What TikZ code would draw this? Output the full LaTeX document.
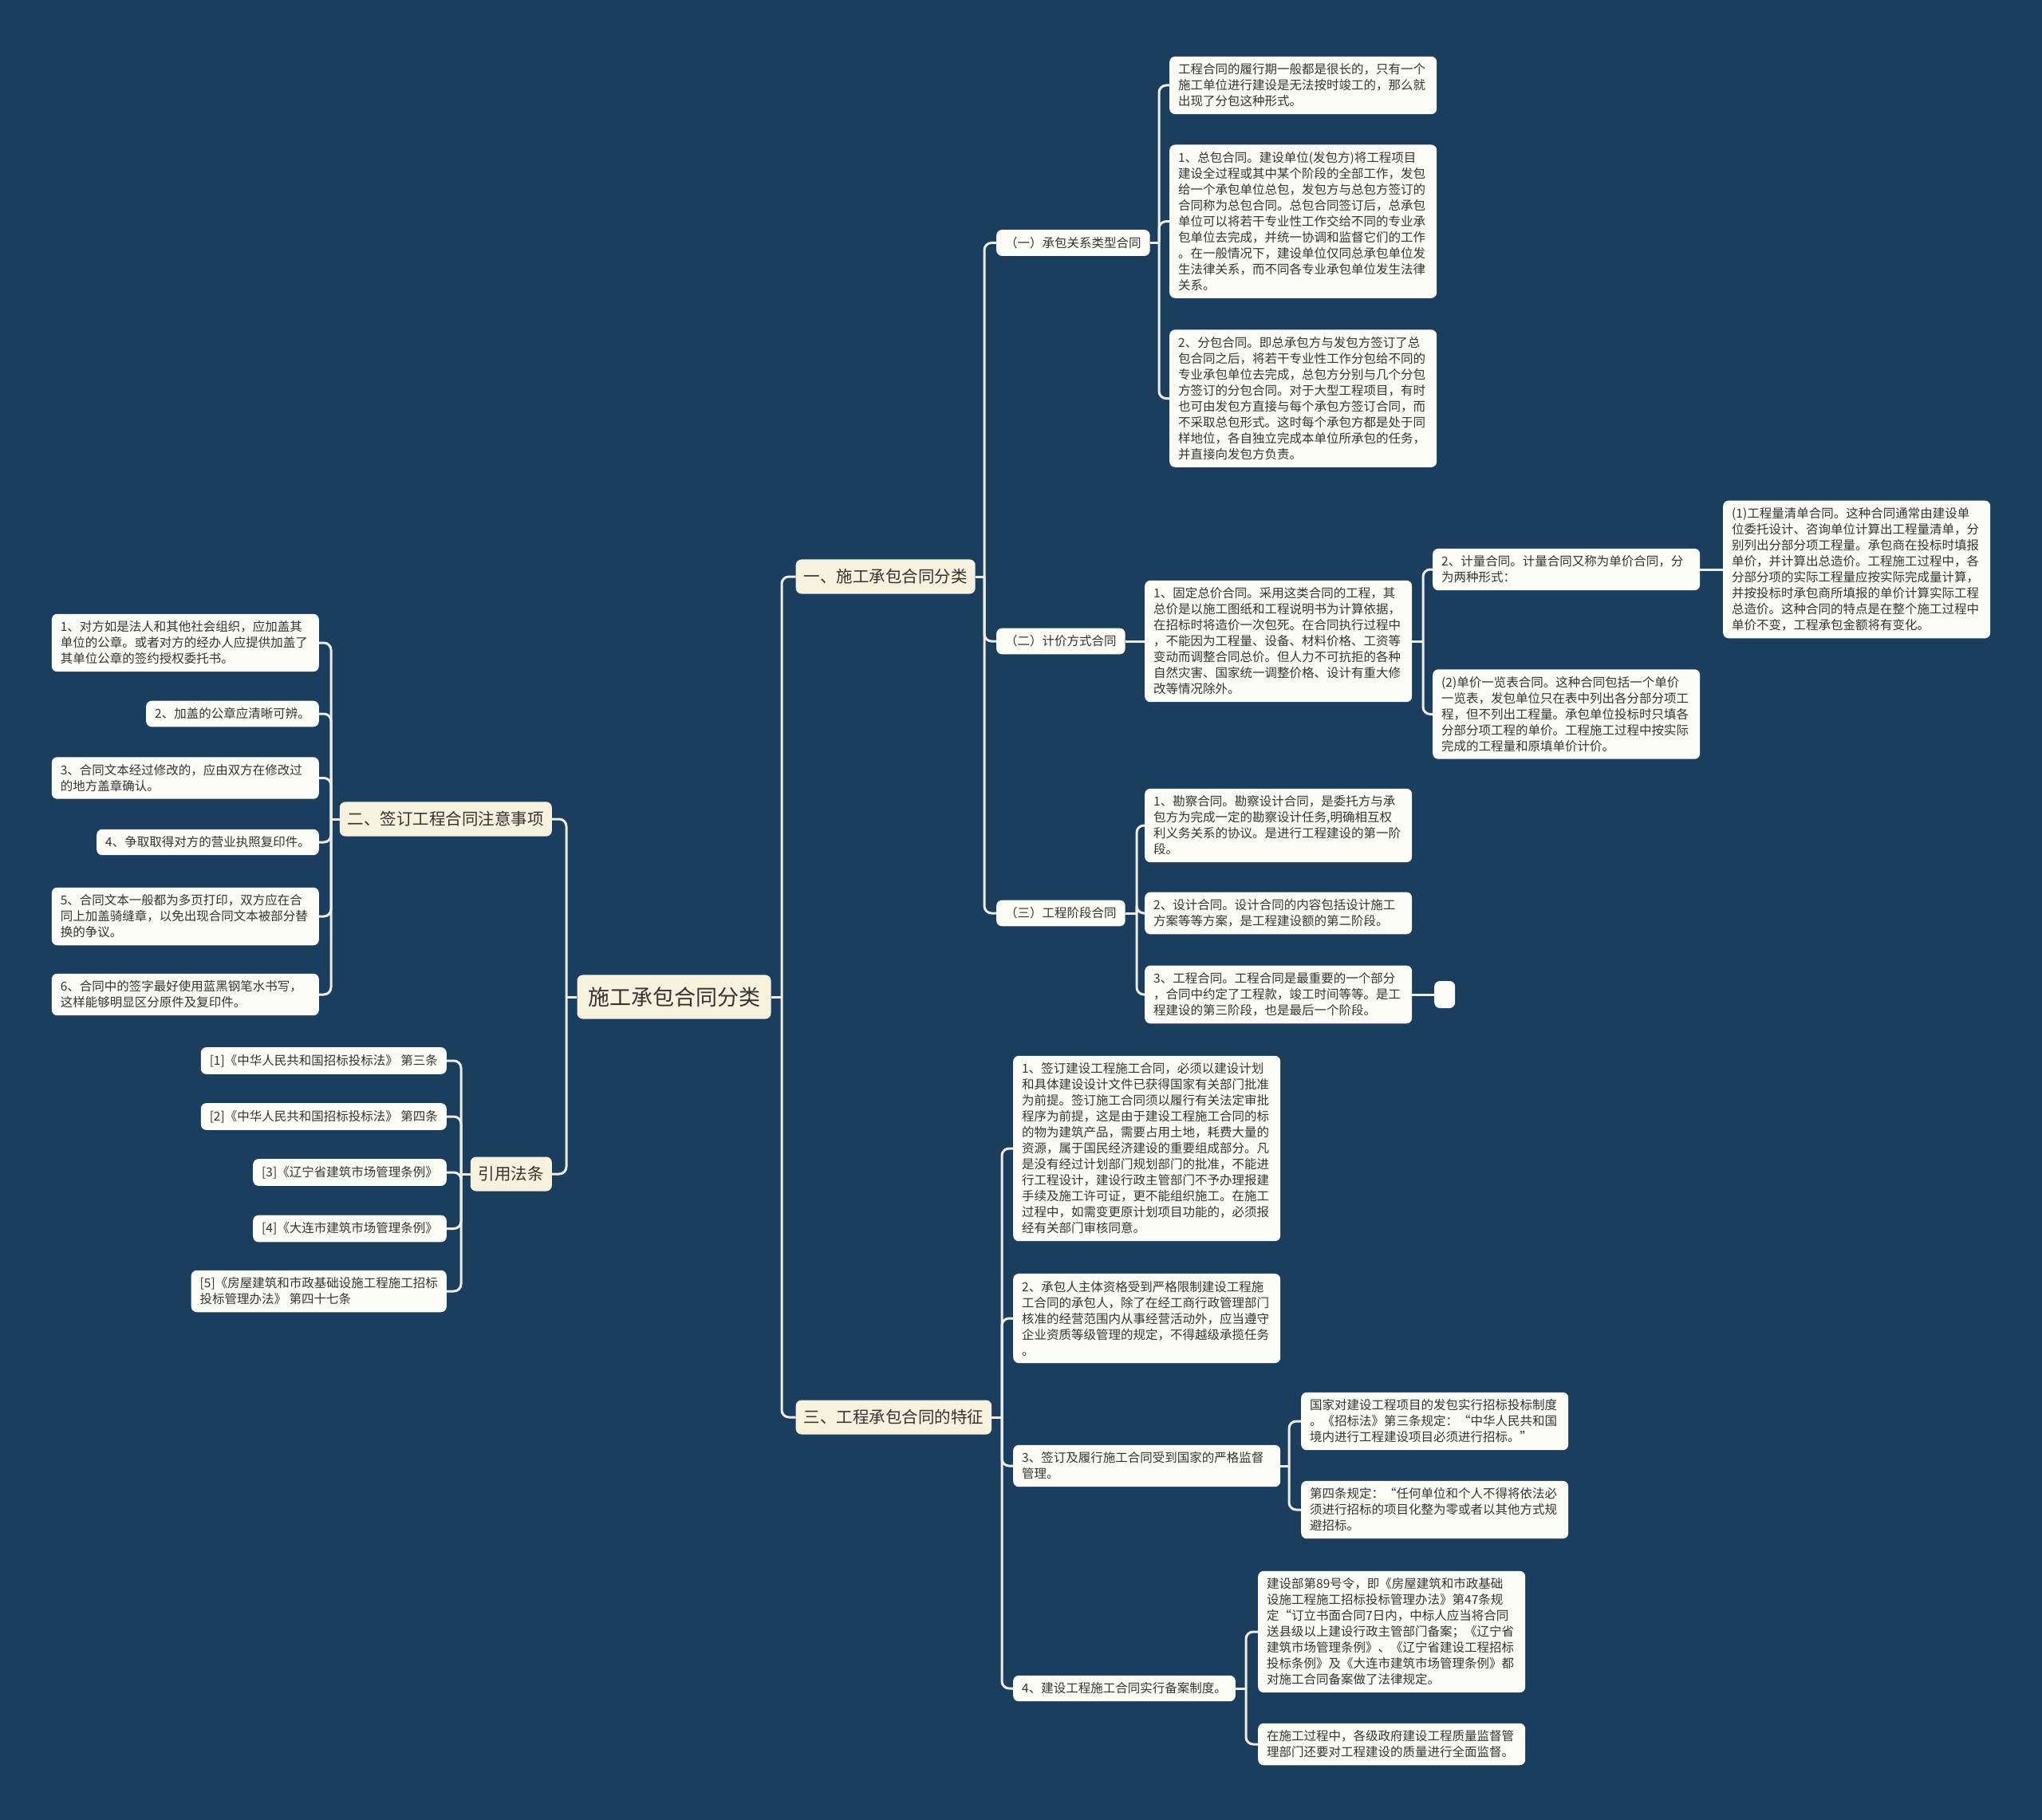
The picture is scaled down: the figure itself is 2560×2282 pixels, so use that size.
\documentclass[tikz,border=0pt]{standalone}
\usepackage{fontspec}
\newfontfamily\cjk{Noto Sans CJK SC}
\definecolor{bgc}{HTML}{1B3D5E}
\definecolor{leafc}{HTML}{FDFDF8}
\definecolor{creamc}{HTML}{F7F2DE}
\definecolor{linec}{HTML}{EDEDE4}
\definecolor{txtc}{HTML}{333333}
\tikzset{
  conn/.style={draw=linec, line width=3pt, rounded corners=9pt},
  box/.style={rounded corners=7pt, fill=leafc, text=txtc, font=\cjk\fontsize{15.5}{20}\selectfont, inner xsep=11pt, inner ysep=9pt, align=left},
  wbox/.style={box, text width=313pt},
  lvlone/.style={box, fill=creamc, font=\cjk\fontsize{20.5}{24}\selectfont, inner xsep=10pt, inner ysep=12pt, align=center},
  rootbox/.style={box, fill=creamc, font=\cjk\fontsize{27}{32}\selectfont, inner xsep=13.5pt, inner ysep=15pt, align=center}
}
\begin{document}
\begin{tikzpicture}[x=1pt,y=-1pt]
\useasboundingbox (0,0) rectangle (2560,2282);
\fill[bgc] (0,0) rectangle (2560,2282);

% root
\node[rootbox] (root) at (845,1250) {施工承包合同分类};

% level 1
\node[lvlone, anchor=west] (b1) at (997.5,723) {一、施工承包合同分类};
\node[lvlone, anchor=west] (b3) at (997.5,1777) {三、工程承包合同的特征};
\node[lvlone, anchor=east, minimum width=263pt] (b2) at (692,1027) {二、签订工程合同注意事项};
\node[lvlone, anchor=east] (b4) at (692,1472) {引用法条};

% level 2 under b1
\node[box, anchor=west] (k1) at (1249,304.5) {（一）承包关系类型合同};
\node[box, anchor=west] (k2) at (1249,804) {（二）计价方式合同};
\node[box, anchor=west] (k3) at (1249,1145) {（三）工程阶段合同};

% under k1
\node[wbox, anchor=west] (a1) at (1466,107) {工程合同的履行期一般都是很长的，只有一个\\施工单位进行建设是无法按时竣工的，那么就\\出现了分包这种形式。};
\node[wbox, anchor=west] (a2) at (1466,277.6) {1、总包合同。建设单位(发包方)将工程项目\\建设全过程或其中某个阶段的全部工作，发包\\给一个承包单位总包，发包方与总包方签订的\\合同称为总包合同。总包合同签订后，总承包\\单位可以将若干专业性工作交给不同的专业承\\包单位去完成，并统一协调和监督它们的工作\\。在一般情况下，建设单位仅同总承包单位发\\生法律关系，而不同各专业承包单位发生法律\\关系。};
\node[wbox, anchor=west] (a3) at (1466,499.6) {2、分包合同。即总承包方与发包方签订了总\\包合同之后，将若干专业性工作分包给不同的\\专业承包单位去完成，总包方分别与几个分包\\方签订的分包合同。对于大型工程项目，有时\\也可由发包方直接与每个承包方签订合同，而\\不采取总包形式。这时每个承包方都是处于同\\样地位，各自独立完成本单位所承包的任务，\\并直接向发包方负责。};

% under k2
\node[wbox, anchor=west] (p1) at (1435,804) {1、固定总价合同。采用这类合同的工程，其\\总价是以施工图纸和工程说明书为计算依据，\\在招标时将造价一次包死。在合同执行过程中\\，不能因为工程量、设备、材料价格、工资等\\变动而调整合同总价。但人力不可抗拒的各种\\自然灾害、国家统一调整价格、设计有重大修\\改等情况除外。};
\node[wbox, anchor=west] (p2) at (1796,714) {2、计量合同。计量合同又称为单价合同，分\\为两种形式：};
\node[wbox, anchor=west] (p3) at (1796,895.5) {(2)单价一览表合同。这种合同包括一个单价\\一览表，发包单位只在表中列出各分部分项工\\程，但不列出工程量。承包单位投标时只填各\\分部分项工程的单价。工程施工过程中按实际\\完成的工程量和原填单价计价。};
\node[wbox, anchor=west] (p4) at (2160,714) {(1)工程量清单合同。这种合同通常由建设单\\位委托设计、咨询单位计算出工程量清单，分\\别列出分部分项工程量。承包商在投标时填报\\单价，并计算出总造价。工程施工过程中，各\\分部分项的实际工程量应按实际完成量计算，\\并按投标时承包商所填报的单价计算实际工程\\总造价。这种合同的特点是在整个施工过程中\\单价不变，工程承包金额将有变化。};

% under k3
\node[wbox, anchor=west] (q1) at (1435,1035) {1、勘察合同。勘察设计合同，是委托方与承\\包方为完成一定的勘察设计任务,明确相互权\\利义务关系的协议。是进行工程建设的第一阶\\段。};
\node[wbox, anchor=west] (q2) at (1435,1145) {2、设计合同。设计合同的内容包括设计施工\\方案等等方案，是工程建设额的第二阶段。};
\node[wbox, anchor=west] (q3) at (1435,1247) {3、工程合同。工程合同是最重要的一个部分\\，合同中约定了工程款，竣工时间等等。是工\\程建设的第三阶段，也是最后一个阶段。};
\node[box, anchor=west, minimum width=26pt, minimum height=34pt, inner sep=0pt] (q4) at (1798,1247) {};

% under b3
\node[wbox, anchor=west] (s1) at (1270,1440) {1、签订建设工程施工合同，必须以建设计划\\和具体建设设计文件已获得国家有关部门批准\\为前提。签订施工合同须以履行有关法定审批\\程序为前提，这是由于建设工程施工合同的标\\的物为建筑产品，需要占用土地，耗费大量的\\资源，属于国民经济建设的重要组成部分。凡\\是没有经过计划部门规划部门的批准，不能进\\行工程设计，建设行政主管部门不予办理报建\\手续及施工许可证，更不能组织施工。在施工\\过程中，如需变更原计划项目功能的，必须报\\经有关部门审核同意。};
\node[wbox, anchor=west] (s2) at (1270,1653) {2、承包人主体资格受到严格限制建设工程施\\工合同的承包人，除了在经工商行政管理部门\\核准的经营范围内从事经营活动外，应当遵守\\企业资质等级管理的规定，不得越级承揽任务\\。};
\node[wbox, anchor=west] (s3) at (1270,1838) {3、签订及履行施工合同受到国家的严格监督\\管理。};
\node[box, anchor=west] (s4) at (1270,2117) {4、建设工程施工合同实行备案制度。};

\node[wbox, anchor=west] (g1) at (1631,1782) {国家对建设工程项目的发包实行招标投标制度\\。《招标法》第三条规定：“中华人民共和国\\境内进行工程建设项目必须进行招标。”};
\node[wbox, anchor=west] (g2) at (1631,1893) {第四条规定：“任何单位和个人不得将依法必\\须进行招标的项目化整为零或者以其他方式规\\避招标。};

\node[wbox, anchor=west] (j1) at (1577,2046) {建设部第89号令，即《房屋建筑和市政基础\\设施工程施工招标投标管理办法》第47条规\\定“订立书面合同7日内，中标人应当将合同\\送县级以上建设行政主管部门备案；《辽宁省\\建筑市场管理条例》、《辽宁省建设工程招标\\投标条例》及《大连市建筑市场管理条例》都\\对施工合同备案做了法律规定。};
\node[wbox, anchor=west] (j2) at (1577,2187) {在施工过程中，各级政府建设工程质量监督管\\理部门还要对工程建设的质量进行全面监督。};

% left: under b2
\node[wbox, anchor=east] (n1) at (400,806) {1、对方如是法人和其他社会组织，应加盖其\\单位的公章。或者对方的经办人应提供加盖了\\其单位公章的签约授权委托书。};
\node[box, anchor=east] (n2) at (400,895) {2、加盖的公章应清晰可辨。};
\node[wbox, anchor=east] (n3) at (400,975.5) {3、合同文本经过修改的，应由双方在修改过\\的地方盖章确认。};
\node[box, anchor=east] (n4) at (400,1056) {4、争取取得对方的营业执照复印件。};
\node[wbox, anchor=east] (n5) at (400,1149) {5、合同文本一般都为多页打印，双方应在合\\同上加盖骑缝章，以免出现合同文本被部分替\\换的争议。};
\node[wbox, anchor=east] (n6) at (400,1247) {6、合同中的签字最好使用蓝黑钢笔水书写，\\这样能够明显区分原件及复印件。};

% left: under b4
\node[box, anchor=east] (c1) at (560,1330) {[1]《中华人民共和国招标投标法》 第三条};
\node[box, anchor=east] (c2) at (560,1400) {[2]《中华人民共和国招标投标法》 第四条};
\node[box, anchor=east] (c3) at (560,1470) {[3]《辽宁省建筑市场管理条例》};
\node[box, anchor=east] (c4) at (560,1540.5) {[4]《大连市建筑市场管理条例》};
\node[box, anchor=east] (c5) at (560,1619) {[5]《房屋建筑和市政基础设施工程施工招标\\投标管理办法》 第四十七条};

% junctions
\coordinate (jR) at (980,1250);
\coordinate (jL) at (710,1250);
\coordinate (jb1) at (1234,723);
\coordinate (jk1) at (1453,304.5);
\coordinate (jp1) at (1784,804);
\coordinate (jk3) at (1425,1145);
\coordinate (jb3) at (1256,1777);
\coordinate (js3) at (1616,1838);
\coordinate (js4) at (1562,2117);
\coordinate (jb2) at (415,1027);
\coordinate (jb4) at (578,1472);

% connectors
\draw[conn] (root.east) -- (jR);
\draw[conn] (jR) |- (b1.west);
\draw[conn] (jR) |- (b3.west);
\draw[conn] (root.west) -- (jL);
\draw[conn] (jL) |- (b2.east);
\draw[conn] (jL) |- (b4.east);

\draw[conn] (b1.east) -- (jb1);
\foreach \c in {k1,k2,k3} \draw[conn] (jb1) |- (\c.west);

\draw[conn] (k1.east) -- (jk1);
\foreach \c in {a1,a2,a3} \draw[conn] (jk1) |- (\c.west);

\draw[conn] (k2.east) -- (p1.west);
\draw[conn] (p1.east) -- (jp1);
\foreach \c in {p2,p3} \draw[conn] (jp1) |- (\c.west);
\draw[conn] (p2.east) -- (p4.west);

\draw[conn] (k3.east) -- (jk3);
\foreach \c in {q1,q2,q3} \draw[conn] (jk3) |- (\c.west);
\draw[conn] (q3.east) -- (q4.west);

\draw[conn] (b3.east) -- (jb3);
\foreach \c in {s1,s2,s3,s4} \draw[conn] (jb3) |- (\c.west);
\draw[conn] (s3.east) -- (js3);
\foreach \c in {g1,g2} \draw[conn] (js3) |- (\c.west);
\draw[conn] (s4.east) -- (js4);
\foreach \c in {j1,j2} \draw[conn] (js4) |- (\c.west);

\draw[conn] (b2.west) -- (jb2);
\foreach \c in {n1,n2,n3,n4,n5,n6} \draw[conn] (jb2) |- (\c.east);
\draw[conn] (b4.west) -- (jb4);
\foreach \c in {c1,c2,c3,c4,c5} \draw[conn] (jb4) |- (\c.east);
\end{tikzpicture}
\end{document}
